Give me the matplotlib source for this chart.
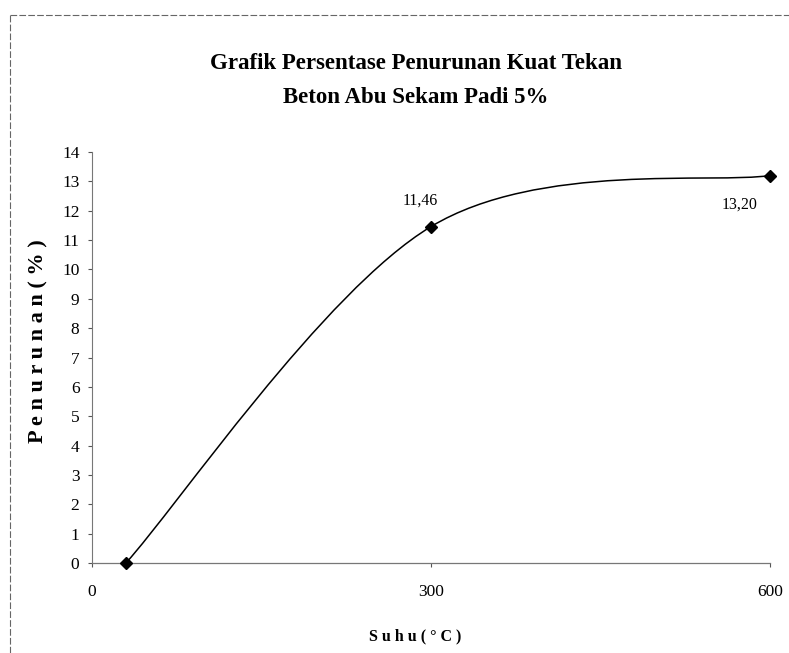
import matplotlib
matplotlib.use("Agg")
import matplotlib.pyplot as plt
from matplotlib.path import Path
from matplotlib.patches import PathPatch
from matplotlib.lines import Line2D

# data
suhu = [30, 300, 600]
penurunan = [0.0, 11.46, 13.20]
label_teks = ["", "11,46", "13,20"]
x_ticks = [0, 300, 600]
y_ticks = list(range(0, 15))

plt.rcParams['font.family'] = ['Liberation Serif', 'DejaVu Serif']

fig = plt.figure(figsize=(7.89, 6.53), dpi=100)
ax = fig.add_axes([0.1166, 0.1378, 0.8594, 0.6294])


# garis halus ala Excel (bezier catmull-rom)
def smooth_path(xs, ys):
    pts = list(zip(xs, ys))
    verts = [pts[0]]
    codes = [Path.MOVETO]
    n = len(pts)
    for i in range(n - 1):
        p0 = pts[i - 1] if i > 0 else pts[i]
        p1 = pts[i]
        p2 = pts[i + 1]
        p3 = pts[i + 2] if i + 2 < n else pts[i + 1]
        c1 = (p1[0] + (p2[0] - p0[0]) / 6, p1[1] + (p2[1] - p0[1]) / 6)
        c2 = (p2[0] - (p3[0] - p1[0]) / 6, p2[1] - (p3[1] - p1[1]) / 6)
        verts += [c1, c2, p2]
        codes += [Path.CURVE4] * 3
    return Path(verts, codes)


ax.add_patch(PathPatch(smooth_path(suhu, penurunan), facecolor='none',
                       edgecolor='black', lw=1.1, zorder=3))
ax.plot(suhu, penurunan, linestyle='none', marker='D', markersize=6.5,
        color='black', zorder=4, clip_on=False)

# label data
ax.annotate(label_teks[1], (suhu[1], penurunan[1]), xytext=(-8, 19),
            textcoords='offset points', ha='center', va='center', fontsize=11.5)
ax.annotate(label_teks[2], (suhu[2], penurunan[2]), xytext=(-22, -21),
            textcoords='offset points', ha='center', va='center', fontsize=11.5)

ax.set_xlim(0, 600)
ax.set_ylim(0, 14)
ax.set_xticks(x_ticks)
ax.set_yticks(y_ticks)
ax.tick_params(axis='both', labelsize=12.5, direction='out', length=3,
               width=0.8, colors='#555555', labelcolor='black')
ax.tick_params(axis='x', pad=12)
ax.tick_params(axis='y', pad=6)

for s in ['top', 'right']:
    ax.spines[s].set_visible(False)
ax.spines['left'].set_color('#777777')
ax.spines['bottom'].set_color('#777777')
ax.spines['left'].set_linewidth(0.8)
ax.spines['bottom'].set_linewidth(0.9)

ax.set_ylabel('P e n u r u n a n ( % )', fontsize=16, fontweight='bold')
ax.yaxis.set_label_coords(-0.064, 0.54)
ax.set_xlabel('S u h u ( ° C )', fontsize=11.5, fontweight='bold')
ax.xaxis.set_label_coords(0.476, -0.158)

fig.text(0.527, 0.903, 'Grafik Persentase Penurunan Kuat Tekan', ha='center',
         va='center', fontsize=16.5, fontweight='bold')
fig.text(0.527, 0.851, 'Beton Abu Sekam Padi 5%', ha='center', va='center',
         fontsize=16.5, fontweight='bold')

# bingkai area chart
fig.add_artist(Line2D([0.013, 1.0], [0.977, 0.977], transform=fig.transFigure,
                      color='#666666', lw=0.8, linestyle=(0, (6, 2))))
fig.add_artist(Line2D([0.013, 0.013], [0.0, 0.977], transform=fig.transFigure,
                      color='#666666', lw=0.8, linestyle=(0, (6, 2))))

fig.savefig('out.png', dpi=100)
